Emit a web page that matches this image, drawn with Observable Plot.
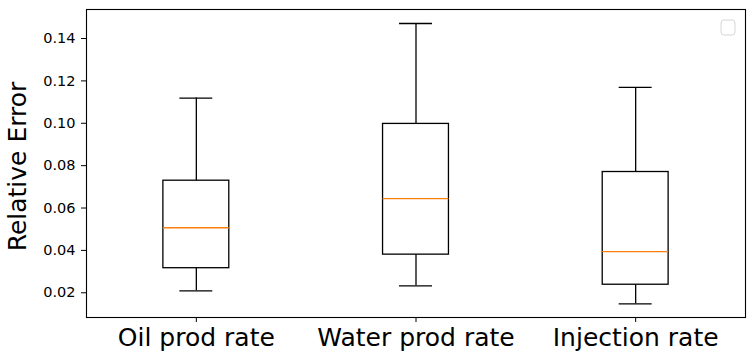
<!DOCTYPE html>
<html>
<head>
<meta charset="utf-8">
<script src="https://cdn.jsdelivr.net/npm/d3@7"></script>
<script src="https://cdn.jsdelivr.net/npm/@observablehq/plot@0.6"></script>
<style>
  html, body { margin: 0; padding: 0; background: #fff; }
  svg { font-family: "DejaVu Sans", sans-serif; }
</style>
</head>
<body>
<div id="chart"></div>
<script>
const categories = ["Oil prod rate", "Water prod rate", "Injection rate"];
const whiskerLow = [0.0209, 0.0233, 0.0148];
const q1 = [0.0316, 0.0380, 0.0238];
const median = [0.0507, 0.0644, 0.0394];
const q3 = [0.0729, 0.0997, 0.0770];
const whiskerHigh = [0.1119, 0.1471, 0.1169];
const yTicks = [0.02, 0.04, 0.06, 0.08, 0.10, 0.12, 0.14];

const boxWidth = 0.3;
const data = categories.map((c, i) => ({
  cat: c, pos: i + 1,
  lo: whiskerLow[i], q1: q1[i], med: median[i], q3: q3[i], hi: whiskerHigh[i]
}));

const chart = Plot.plot({
  width: 755,
  height: 361,
  marginLeft: 86,
  marginRight: 10,
  marginTop: 9,
  marginBottom: 44,
  style: { fontFamily: "DejaVu Sans, sans-serif", background: "#fff" },
  x: { domain: [0.5, 3.5] },
  y: { domain: [0.00833, 0.1537] },
  marks: [
    Plot.axisX({
      ticks: data.map(d => d.pos),
      tickFormat: p => categories[p - 1],
      tickSize: 5, tickPadding: 6, fontSize: 25, label: null, color: "#000"
    }),
    Plot.axisY({
      ticks: yTicks, tickFormat: d3.format(".2f"),
      tickSize: 5, tickPadding: 6, fontSize: 14.5,
      label: "Relative Error", labelAnchor: "center", labelArrow: "none",
      labelOffset: 78, color: "#000"
    }),
    // whiskers
    Plot.ruleX(data, { x: "pos", y1: "lo", y2: "q1", stroke: "#000", strokeWidth: 1.3 }),
    Plot.ruleX(data, { x: "pos", y1: "q3", y2: "hi", stroke: "#000", strokeWidth: 1.3 }),
    // caps
    Plot.ruleY(data, { y: "lo", x1: d => d.pos - boxWidth / 4, x2: d => d.pos + boxWidth / 4, stroke: "#000", strokeWidth: 1.3 }),
    Plot.ruleY(data, { y: "hi", x1: d => d.pos - boxWidth / 4, x2: d => d.pos + boxWidth / 4, stroke: "#000", strokeWidth: 1.3 }),
    // boxes
    Plot.rect(data, { x1: d => d.pos - boxWidth / 2, x2: d => d.pos + boxWidth / 2, y1: "q1", y2: "q3", fill: "none", stroke: "#000", strokeWidth: 1.3 }),
    // medians
    Plot.ruleY(data, { y: "med", x1: d => d.pos - boxWidth / 2, x2: d => d.pos + boxWidth / 2, stroke: "#ff7f0e", strokeWidth: 1.3 }),
    Plot.frame({ stroke: "#000", strokeWidth: 1.1 })
  ]
});

const svg = d3.select(chart);
svg.selectAll('g[aria-label="y-axis label"]')
  .style("font-size", "25px")
  .attr("transform", function() { return (this.getAttribute("transform") || "") + " translate(0,3)"; })
  .selectAll("text").style("font-size", "25px");

// empty legend box (matplotlib draws an empty legend frame)
svg.append("rect")
  .attr("x", 721).attr("y", 20).attr("width", 14).attr("height", 15)
  .attr("rx", 3).attr("fill", "#fff").attr("stroke", "#d6d6d6").attr("stroke-width", 1);

document.getElementById("chart").appendChild(chart);
</script>
</body>
</html>
